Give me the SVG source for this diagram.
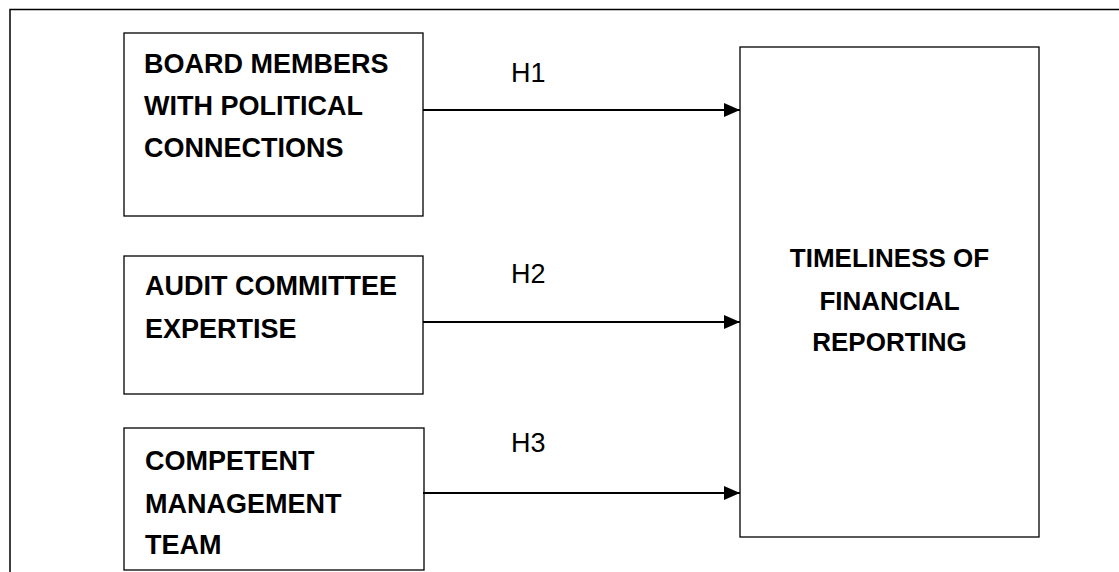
<svg xmlns="http://www.w3.org/2000/svg" width="1119" height="572" viewBox="0 0 1119 572">
<style>
.box{fill:#fff;stroke:#000;stroke-width:1.3}
.t{font-family:"Liberation Sans",Arial,sans-serif;font-weight:bold;font-size:27px;fill:#000}
.tr{font-family:"Liberation Sans",Arial,sans-serif;font-weight:bold;font-size:26px;fill:#000}
.h{font-family:"Liberation Sans",Arial,sans-serif;font-size:27px;fill:#000}
.c{stroke:#000;stroke-width:2.2;fill:none}
</style>
<defs>
<marker id="ah" markerWidth="16" markerHeight="14" refX="16" refY="7" orient="auto" markerUnits="userSpaceOnUse">
<path d="M0,0 L16,7 L0,14 Z" fill="#000"/>
</marker>
</defs>
<rect width="1119" height="572" fill="#fff"/>
<g id="frame">
<path d="M10,572 L10,9.5 L1119,9.5" fill="none" stroke="#000" stroke-width="1.5"/>
</g>
<g id="n1">
<rect class="box" x="124" y="33" width="299" height="183"/>
<text class="t" x="144" y="73">BOARD MEMBERS</text>
<text class="t" x="144" y="115">WITH POLITICAL</text>
<text class="t" x="144" y="157">CONNECTIONS</text>
</g>
<g id="n2">
<rect class="box" x="124" y="256" width="299" height="138"/>
<text class="t" x="145" y="295">AUDIT COMMITTEE</text>
<text class="t" x="145" y="338">EXPERTISE</text>
</g>
<g id="n3">
<rect class="box" x="124" y="428" width="300" height="142"/>
<text class="t" x="145" y="470">COMPETENT</text>
<text class="t" x="145" y="513">MANAGEMENT</text>
<text class="t" x="145" y="554">TEAM</text>
</g>
<g id="n4">
<rect class="box" x="740" y="47" width="299" height="490"/>
<text class="tr" x="889.5" y="267" text-anchor="middle">TIMELINESS OF</text>
<text class="tr" x="889.5" y="310" text-anchor="middle">FINANCIAL</text>
<text class="tr" x="889.5" y="351" text-anchor="middle">REPORTING</text>
</g>
<g id="connectors">
<line class="c" x1="423" y1="110" x2="740" y2="110" marker-end="url(#ah)"/>
<line class="c" x1="423" y1="322" x2="740" y2="322" marker-end="url(#ah)"/>
<line class="c" x1="423" y1="493" x2="740" y2="493" marker-end="url(#ah)"/>
<text class="h" x="511" y="82">H1</text>
<text class="h" x="511" y="283">H2</text>
<text class="h" x="511" y="452">H3</text>
</g>
</svg>
